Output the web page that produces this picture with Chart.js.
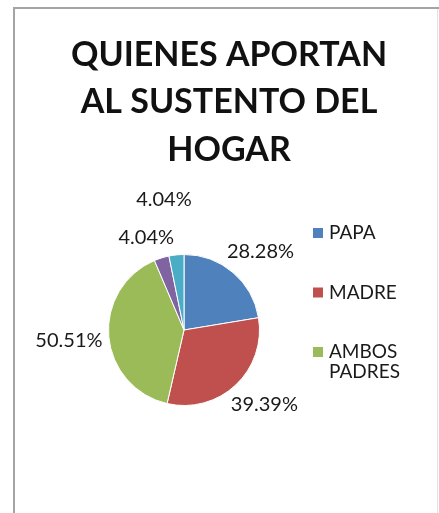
<!DOCTYPE html>
<html>
<head>
<meta charset="utf-8">
<script src="https://cdn.jsdelivr.net/npm/chart.js@4.4.0/dist/chart.umd.min.js"></script>
<style>
  html, body { margin: 0; padding: 0; background: #fff; }
  #wrap { width: 439px; height: 513px; }
</style>
</head>
<body>
<div id="wrap"><canvas id="myChart"></canvas></div>
<script>
var titleLines = ['QUIENES APORTAN', 'AL SUSTENTO DEL', 'HOGAR'];
var categories = ['PAPA', 'MADRE', 'AMBOS PADRES', 'OTRO 1', 'OTRO 2'];
var legendCount = 3; // only the first three show in the legend
var values = [28.28, 39.39, 50.51, 4.04, 4.04];
var sliceColors = ['#4F81BD', '#C0504D', '#9BBB59', '#8064A2', '#4BACC6'];

// label placement tweaks, per slice (extra distance past the edge, turn in degrees)
var labelPush = [34, 34, 40, 24, 56];
var labelTurn = [4, -4, 0, -5, -3];

var frameAndText = {
  id: 'frameAndText',
  beforeDraw: function (chart) {
    var ctx = chart.ctx;
    ctx.save();
    ctx.fillStyle = '#a4a4a4';
    ctx.fillRect(13, 7, 426, 2);
    ctx.fillRect(13, 7, 2, 506);
    ctx.fillStyle = '#e2e2e2';
    ctx.fillRect(437, 9, 1, 504);
    ctx.restore();
  },
  afterDraw: function (chart) {
    var ctx = chart.ctx;
    ctx.save();
    ctx.fillStyle = '#111';
    ctx.textAlign = 'center';
    ctx.textBaseline = 'middle';

    // title
    ctx.font = 'bold 34px Lato';
    titleLines.forEach(function (t, i) {
      ctx.fillText(t, 229, 55 + i * 47.5);
    });

    // data labels
    ctx.font = '20px Lato';
    ctx.fillStyle = '#1a1a1a';
    var meta = chart.getDatasetMeta(0);
    meta.data.forEach(function (arc, i) {
      var mid = (arc.startAngle + arc.endAngle) / 2 + labelTurn[i] * Math.PI / 180;
      var d = arc.outerRadius + labelPush[i];
      ctx.fillText(values[i].toFixed(2) + '%', arc.x + Math.cos(mid) * d, arc.y + Math.sin(mid) * d);
    });

    // legend
    ctx.font = '19px Lato';
    ctx.textAlign = 'left';
    var y = 233;
    for (var i = 0; i < legendCount; i++) {
      var words = categories[i].split(' ');
      var lines = ctx.measureText(categories[i]).width > 80 ? words : [categories[i]];
      ctx.fillStyle = sliceColors[i];
      ctx.fillRect(313, y - 5, 10, 10);
      ctx.fillStyle = '#1a1a1a';
      lines.forEach(function (ln, k) {
        ctx.fillText(ln, 329, y + k * 20);
      });
      y += 59.5;
    }
    ctx.restore();
  }
};

new Chart(document.getElementById('myChart'), {
  type: 'pie',
  data: {
    labels: categories,
    datasets: [{
      data: values,
      backgroundColor: sliceColors,
      borderColor: '#ffffff',
      borderWidth: 1
    }]
  },
  options: {
    responsive: true,
    maintainAspectRatio: false,
    animation: false,
    layout: { padding: { left: 108, right: 179, top: 250, bottom: 103 } },
    plugins: {
      legend: { display: false },
      tooltip: { enabled: false },
      title: { display: false }
    }
  },
  plugins: [frameAndText]
});
</script>
</body>
</html>
